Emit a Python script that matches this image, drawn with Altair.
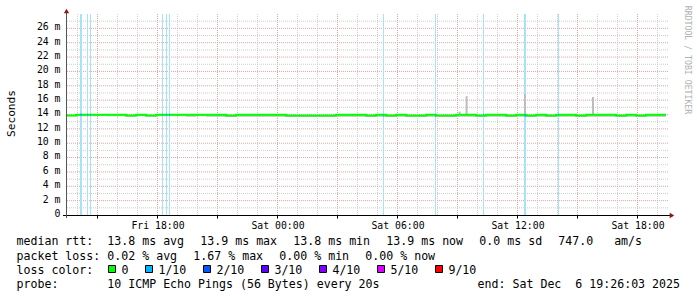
import altair as alt
import pandas as pd

MONO = "DejaVu Sans Mono"

# ------------------------------------------------------------------ data
start_hour = 13.45          # first sample, hours after Fri 00:00
sample_step = 0.5           # hours between samples
median_rtt = [
    13.85, 13.95, 13.95, 13.95, 13.95, 13.95, 13.85, 13.95, 13.85, 13.95,
    13.95, 13.95, 13.95, 13.95, 13.95, 13.95, 13.85, 13.95, 13.95, 13.95,
    13.95, 13.95, 13.85, 13.85, 13.85, 13.85, 13.85, 13.95, 13.95, 13.95,
    13.85, 13.95, 13.85, 13.95, 13.85, 13.85, 13.95, 13.85, 13.85, 13.95,
    13.95, 13.85, 13.95, 13.95, 13.85, 13.95, 13.85, 13.95, 13.85, 13.95,
    13.95, 13.85, 13.95, 13.95, 13.95, 13.85, 13.95, 13.85, 13.95, 13.95,
    13.95,
]
smoke_lo = [
    13.75, 13.75, 13.75, 13.8, 13.75, 13.75, 13.7, 13.75, 13.7, 13.75,
    13.75, 13.75, 13.7, 13.75, 13.7, 13.7, 13.65, 13.7, 13.7, 13.7,
    13.7, 13.7, 13.65, 13.65, 13.65, 13.65, 13.65, 13.7, 13.7, 13.7,
    13.65, 13.7, 13.65, 13.7, 13.65, 13.65, 13.7, 13.65, 13.65, 13.7,
    13.7, 13.65, 13.7, 13.7, 13.65, 13.7, 13.65, 13.7, 13.65, 13.7,
    13.7, 13.65, 13.7, 13.7, 13.7, 13.65, 13.7, 13.65, 13.7, 13.7,
    13.7,
]
loss_start = [14.15, 14.5, 14.65, 18.25, 18.45, 18.6, 29.3, 31.9, 34.3, 36.35, 38.05]
loss_steps = [2, 1, 1, 1, 1, 1, 1, 1, 1, 2, 1]
loss_step_hours = 0.05
spike_hour = [33.13, 33.48, 36.4, 39.8]
spike_top = [14.4, 16.55, 16.85, 16.45]

x_tick_hours = [18, 24, 30, 36, 42]
x_tick_labels = ["Fri 18:00", "Sat 00:00", "Sat 06:00", "Sat 12:00", "Sat 18:00"]
x_major_hours = list(range(15, 43, 3))
x_minor_hours = [h for h in range(14, 44) if h not in x_major_hours]
y_major = list(range(0, 27, 2))
y_minor = list(range(1, 28, 2))
y_tick_labels = ["0 "] + [f"{v} m" for v in y_major[1:]]

legend_heads = ["median rtt:", "packet loss:", "loss color:", "probe:"]
rtt_stats = ["13.8 ms avg", "13.9 ms max", "13.8 ms min", "13.9 ms now", "0.0 ms sd", "747.0   am/s"]
loss_stats = ["0.02 % avg", "1.67 % max", "0.00 % min", "0.00 % now"]
loss_color_labels = ["0", "1/10", "2/10", "3/10", "4/10", "5/10", "9/10"]
loss_color_values = ["#00ff00", "#00b8ff", "#0059ff", "#5e00ff", "#7e00ff", "#dd00ff", "#ff0000"]
probe_text = "10 ICMP Echo Pings (56 Bytes) every 20s"
end_text = "end: Sat Dec  6 19:26:03 2025"
y_title = "Seconds"
watermark = "RRDTOOL / TOBI OETIKER"

# ------------------------------------------------------------------ layout
PL, PT, W, H = 67, 14, 600, 201
GRID = "#cdcdcd"
MGRID = "#e0a6a6"
ARROW = "#8b1a1a"
NB = "\u00a0"

hours = [round(start_hour + i * sample_step, 2) for i in range(len(median_rtt))]
df = pd.DataFrame({"h": hours, "rtt": median_rtt, "lo": smoke_lo})


def rtt_at(h):
    i = min(range(len(hours)), key=lambda k: abs(hours[k] - h))
    return median_rtt[i]


loss_rows, loss_line_rows = [], []
for i, (s, n) in enumerate(zip(loss_start, loss_steps)):
    e = s + n * loss_step_hours
    loss_rows.append({"s": s, "e": e})
    loss_line_rows.append({"id": i, "h": s, "rtt": rtt_at(s)})
    loss_line_rows.append({"id": i, "h": e, "rtt": rtt_at(s)})
loss_df = pd.DataFrame(loss_rows)
loss_line_df = pd.DataFrame(loss_line_rows)
spike_df = pd.DataFrame({"h": spike_hour, "top": spike_top, "base": [rtt_at(h) for h in spike_hour]})

xs = alt.Scale(domain=[13.5, 43.5], nice=False, zero=False)
ys = alt.Scale(domain=[0, 28], nice=False, zero=False)
XQ = lambda f: alt.X(f, scale=xs, axis=None)
YQ = lambda f: alt.Y(f, scale=ys, axis=None)

vminor = alt.Chart(pd.DataFrame({"h": x_minor_hours})).mark_rule(
    color=GRID, strokeDash=[1, 1], strokeWidth=1, xOffset=0.5
).encode(x=XQ("h:Q"), y=alt.value(0), y2=alt.value(H))
vmajor = alt.Chart(pd.DataFrame({"h": x_major_hours})).mark_rule(
    color=MGRID, strokeDash=[1, 1], strokeWidth=1, xOffset=0.5
).encode(x=XQ("h:Q"), y=alt.value(0), y2=alt.value(H))
hminor = alt.Chart(pd.DataFrame({"v": y_minor})).mark_rule(
    color=GRID, strokeDash=[1, 1], strokeWidth=1
).encode(y=YQ("v:Q"), x=alt.value(0), x2=alt.value(W + 2))
hmajor = alt.Chart(pd.DataFrame({"v": y_major[1:]})).mark_rule(
    color=MGRID, strokeDash=[1, 1], strokeWidth=1
).encode(y=YQ("v:Q"), x=alt.value(0), x2=alt.value(W + 2))

loss_bg = alt.Chart(loss_df).mark_rect(color="#a8e2f8").encode(
    x=XQ("s:Q"), x2="e:Q", y=alt.value(0), y2=alt.value(H)
)
smoke = alt.Chart(df).mark_area(color="#bebebe", interpolate="step-after").encode(
    x=XQ("h:Q"), y=YQ("lo:Q"), y2="rtt:Q"
)
spikes = alt.Chart(spike_df).mark_rule(color="#bdbdbd", strokeWidth=2).encode(
    x=XQ("h:Q"), y=YQ("top:Q"), y2="base:Q"
)
line = alt.Chart(df).mark_line(color="#00ff00", strokeWidth=2, interpolate="step-after").encode(
    x=XQ("h:Q"), y=YQ("rtt:Q")
)
loss_line = alt.Chart(loss_line_df).mark_line(color="#00b8ff", strokeWidth=2).encode(
    x=XQ("h:Q"), y=YQ("rtt:Q"), detail="id:N"
)

# axis ticks and labels, placed through the same scales
x_ticks = alt.Chart(pd.DataFrame({"h": x_major_hours})).mark_rule(
    color="#000000", strokeWidth=1, xOffset=0.5
).encode(x=XQ("h:Q"), y=alt.value(H + 1), y2=alt.value(H + 3.5))
x_labels = alt.Chart(pd.DataFrame({"h": x_tick_hours, "l": x_tick_labels})).mark_text(
    font=MONO, fontSize=9.8, color="#000000", align="center", baseline="alphabetic", dx=1
).encode(x=XQ("h:Q"), y=alt.value(228.5 - PT), text="l:N")
y_labels = alt.Chart(pd.DataFrame({"v": y_major, "l": [s.replace(" ", NB) for s in y_tick_labels]})).mark_text(
    font=MONO, fontSize=9.8, color="#000000", align="right", baseline="alphabetic", dy=1.9
).encode(y=YQ("v:Q"), x=alt.value(60.5 - PL), text="l:N")

one = pd.DataFrame({"k": [0]})

x_axis_line = alt.Chart(one).mark_rule(color="#000000", strokeWidth=1).encode(
    x=alt.value(-4), x2=alt.value(W + 3), y=alt.value(H + 0.5))
y_axis_line = alt.Chart(one).mark_rule(color="#555555", strokeWidth=1).encode(
    x=alt.value(-0.5), y=alt.value(-4), y2=alt.value(H + 3))
arrow_up = alt.Chart(one).mark_point(shape="triangle-up", filled=True, size=28, color=ARROW, opacity=1).encode(
    x=alt.value(-0.5), y=alt.value(-3))
arrow_right = alt.Chart(one).mark_point(shape="triangle-right", filled=True, size=28, color=ARROW, opacity=1).encode(
    x=alt.value(W + 5), y=alt.value(H + 0.5))


def label(s, x, y, size=11.6, color="#000000", align="left", baseline="alphabetic", angle=0):
    mk = dict(font=MONO, fontSize=size, color=color, align=align, baseline=baseline)
    if angle:
        mk["angle"] = angle
    return alt.Chart(one).mark_text(**mk).encode(
        x=alt.value(x - PL), y=alt.value(y - PT), text=alt.value(s.replace(" ", NB)))


def box(cx, cy, color):
    return alt.Chart(one).mark_point(
        shape="square", filled=True, size=49, fill=color, stroke="#000000", strokeWidth=1, opacity=1
    ).encode(x=alt.value(cx - PL), y=alt.value(cy - PT))


texts = []
row_y = [245.3, 259.5, 273.7, 287.9]
for head, yy in zip(legend_heads, row_y):
    texts.append(label(head, 16.5, yy))
CW, GAP, COL = 7.0, 16.0, 107.3
xx = COL
for s in rtt_stats:
    texts.append(label(s, xx, row_y[0]))
    xx += len(s) * CW + GAP
xx = COL
for s in loss_stats:
    texts.append(label(s, xx, row_y[1]))
    xx += len(s) * CW + GAP
xx = 108.0
for s, c in zip(loss_color_labels, loss_color_values):
    texts.append(box(round(xx) + 4, 269, c))
    texts.append(label(s, xx + 13.4, row_y[2]))
    xx += 13.4 + len(s) * CW + 16.6
texts.append(label(probe_text, COL, row_y[3]))
texts.append(label(end_text, 680, row_y[3], align="right"))
texts.append(label(y_title, 15, 113.5, size=11.2, align="center", angle=270))
texts.append(label(watermark, 684.5, 60, size=8.2, color="#b0b0b0", align="center", angle=90))

chart = alt.layer(
    vminor, vmajor, hminor, hmajor, loss_bg, smoke, spikes, line, loss_line,
    x_ticks, x_labels, y_labels,
    x_axis_line, y_axis_line, arrow_up, arrow_right, *texts
).properties(
    width=W, height=H,
    padding={"left": PL, "top": PT, "right": 697 - PL - W, "bottom": 297 - PT - H},
    autosize=alt.AutoSizeParams(type="none"),
    background="#ffffff",
).configure_view(strokeWidth=0)

chart.save("out.html", embed_options={"renderer": "svg", "actions": False})
